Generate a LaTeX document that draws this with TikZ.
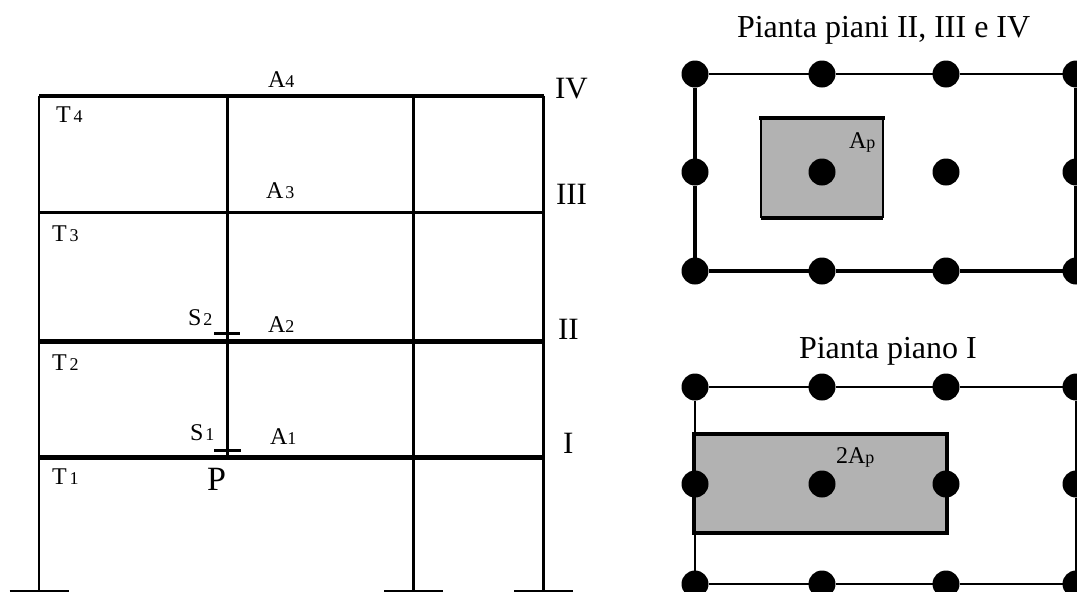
\documentclass[tikz,border=0pt]{standalone}
\usepackage{fontspec}
\setmainfont{Liberation Serif}
\newcommand{\szL}{\fontsize{24}{24}\selectfont}
\newcommand{\szS}{\fontsize{18}{18}\selectfont}
\newcommand{\szB}{\fontsize{31}{31}\selectfont}
\newcommand{\szP}{\fontsize{34}{34}\selectfont}
\newcommand{\szT}{\fontsize{32}{32}\selectfont}
\newcommand{\subl}[3]{{\szL #1}\hspace{#3pt}{\szS #2}}
\definecolor{slab}{HTML}{B2B2B2}
\tikzset{
  x=1pt,y=-1pt,
  lab/.style={anchor=base west,inner sep=0pt,outer sep=0pt},
  col/.style={circle,fill=black,minimum size=27pt,inner sep=0pt,outer sep=0pt},
  area/.style={fill=slab,inner sep=0pt,outer sep=0pt,rectangle},
  frameA/.style={line width=2.6pt},
  frameB/.style={line width=3.5pt},
  beamA/.style={line width=3.4pt},
  beamB/.style={line width=4.2pt},
  base/.style={line width=1.8pt},
  tick/.style={line width=3.4pt},
}
\begin{document}
\begin{tikzpicture}
\path[use as bounding box,clip] (0,0) rectangle (1077,592);
\fill[white] (0,0) rectangle (1077,592);
% frame joints
\foreach \n/\x in {a/39,b/227.5,c/413.5,d/543.5}{
  \coordinate (\n4) at (\x,95.5);
  \coordinate (\n3) at (\x,212.5);
  \coordinate (\n2) at (\x,341.5);
  \coordinate (\n1) at (\x,457.5);
  \coordinate (\n0) at (\x,591);
  \coordinate (\n L) at (\x-29.5,591);
  \coordinate (\n R) at (\x+29.5,591);
}
\draw[frameA] (a4) -- (a0);
\draw[frameB] (b4) -- (b1);
\draw[frameB] (c4) -- (c0);
\draw[frameB] (d4) -- (d0);
\draw[line width=4pt] (a4) -- (d4);
\draw[beamA] (a3) -- (d3);
\draw[beamB] (a2) -- (d2);
\draw[beamB] (a1) -- (d1);
\draw[base] (aL) -- (aR);
\draw[base] (cL) -- (cR);
\draw[base] (dL) -- (dR);
\coordinate (s2a) at (214,333.5);
\coordinate (s2b) at (240,333.5);
\coordinate (s1a) at (214,450.5);
\coordinate (s1b) at (241,450.5);
\draw[tick] (s2a) -- (s2b);
\draw[tick] (s1a) -- (s1b);
% frame labels
\node[lab] (tA4) at (268,87) {\subl{A}{4}{0}};
\node[lab] (tA3) at (266,198) {\subl{A}{3}{2}};
\node[lab] (tA2) at (268,332) {\subl{A}{2}{0}};
\node[lab] (tA1) at (270,444) {\subl{A}{1}{0}};
\node[lab] (tT4) at (56,122) {\subl{T}{4}{3}};
\node[lab] (tT3) at (52,241) {\subl{T}{3}{3}};
\node[lab] (tT2) at (52,370) {\subl{T}{2}{3}};
\node[lab] (tT1) at (52,484) {\subl{T}{1}{3}};
\node[lab] (tS2) at (188,325) {\subl{S}{2}{2}};
\node[lab] (tS1) at (190,440) {\subl{S}{1}{2}};
\node[lab] (tP) at (207,490) {\szP P};
\node[lab] (tIV) at (555,98) {\szB IV};
\node[lab] (tIII) at (556,204) {\szB III};
\node[lab] (tII) at (558,339) {\szB II};
\node[lab] (tI) at (563,453) {\szB I};
% plan 1
\node[lab] (ttl1) at (737,37) {\szT Pianta piani II, III e IV};
\node[area,minimum width=122pt,minimum height=100pt] (ar1) at (822,168) {};
\draw[line width=3.4pt,line cap=rect] (ar1.north west) -- (ar1.north east);
\draw[line width=3.4pt] (ar1.south west) -- (ar1.south east);
\draw[line width=1.6pt] (ar1.north west) -- (ar1.south west);
\draw[line width=1.6pt] (ar1.north east) -- (ar1.south east);
\foreach \n/\x in {a/695,b/822,c/946,d/1076}{
  \node[col] (p\n1) at (\x,74) {};
  \node[col] (p\n2) at (\x,172) {};
  \node[col] (p\n3) at (\x,271) {};
}
\draw[line width=2pt] (pa1) -- (pb1) -- (pc1) -- (pd1);
\draw[line width=3.4pt] (pa3) -- (pb3) -- (pc3) -- (pd3);
\draw[line width=3.2pt] (pa1) -- (pa2) -- (pa3);
\draw[line width=3.2pt] (pd1) -- (pd2) -- (pd3);
\node[lab] (tAp) at (849,148) {{\szL A}{\szS p}};
% plan 2
\node[lab] (ttl2) at (799,358) {\szT Pianta piano I};
\node[area,minimum width=253pt,minimum height=99pt] (ar2) at (820.5,483.5) {};
\draw[line width=3.4pt,line cap=rect] (ar2.north west) -- (ar2.north east) -- (ar2.south east) -- (ar2.south west) -- cycle;
\foreach \n/\x in {a/695,b/822,c/946,d/1076}{
  \node[col] (q\n1) at (\x,387) {};
  \node[col] (q\n2) at (\x,484) {};
  \node[col] (q\n3) at (\x,584) {};
}
\draw[line width=2.4pt] (qa1) -- (qb1) -- (qc1) -- (qd1);
\draw[line width=2.2pt] (qa3) -- (qb3) -- (qc3) -- (qd3);
\draw[line width=2.6pt] (qa1) -- (qa2) -- (qa3);
\draw[line width=2.6pt] (qd1) -- (qd2) -- (qd3);
\node[lab] (t2Ap) at (836,463) {{\szL 2A}{\szS p}};
\end{tikzpicture}
\end{document}
